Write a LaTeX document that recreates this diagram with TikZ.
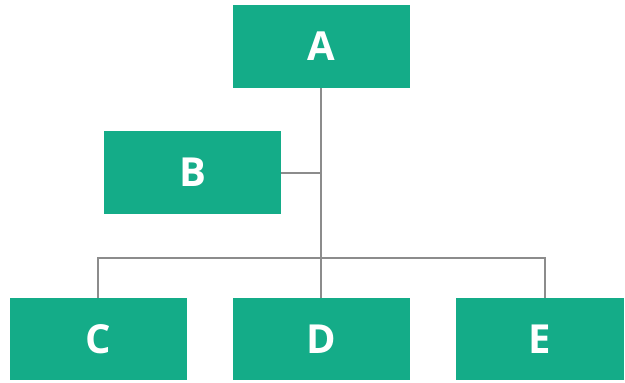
\documentclass[tikz,border=0pt]{standalone}
\usepackage{fontspec}
\setmainfont{Open Sans}
\definecolor{boxgreen}{RGB}{20,172,136}
\definecolor{linegray}{RGB}{140,140,140}
\begin{document}
\begin{tikzpicture}[x=1pt,y=-1pt,
  box/.style={fill=boxgreen,draw=none,text=white,font=\fontsize{40}{40}\selectfont\bfseries,inner sep=0pt},
  conn/.style={draw=linegray,line width=1.2pt}]
\useasboundingbox (0,0) rectangle (625,383);
\node[box,minimum width=177pt,minimum height=83pt] (A) at (321,46.5) {A};
\node[box,minimum width=177pt,minimum height=83pt] (B) at (192.5,172.5) {B};
\node[box,minimum width=177pt,minimum height=82pt] (C) at (98.5,339) {C};
\node[box,minimum width=177pt,minimum height=82pt] (D) at (321,339) {D};
\node[box,minimum width=168pt,minimum height=82pt] (E) at (540,339) {E};
\coordinate (bj) at (321,173);
\coordinate (hl) at (98,258);
\coordinate (hr) at (545,258);
\draw[conn] (A.south) -- (D.north);
\draw[conn] (B.east |- bj) -- (bj);
\draw[conn] (C.north -| hl) -- (hl) -- (hr) -- (E.north -| hr);
\end{tikzpicture}
\end{document}
